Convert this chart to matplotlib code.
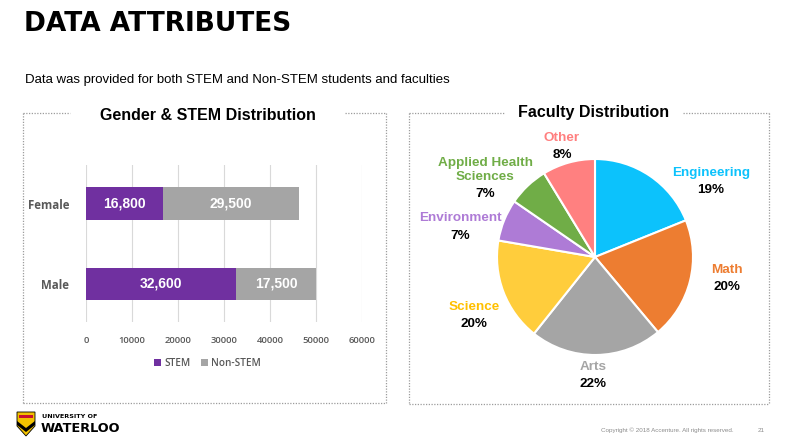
import matplotlib
matplotlib.use("Agg")
import matplotlib.pyplot as plt
from matplotlib.lines import Line2D
from matplotlib.patches import Polygon, Rectangle

# ---------------- data ----------------
genders = ["Male", "Female"]
stem = [32600, 16800]
non_stem = [17500, 29500]
x_ticks = [0, 10000, 20000, 30000, 40000, 50000, 60000]

faculties = ["Engineering", "Math", "Arts", "Science", "Environment",
             "Applied Health\nSciences", "Other"]
faculty_share = [18.9, 20.0, 21.8, 17.0, 6.9, 6.7, 8.7]   # slice sizes as drawn
faculty_pct_labels = ["19%", "20%", "22%", "20%", "7%", "7%", "8%"]

# ---------------- style ----------------
W, H = 793, 446
fig = plt.figure(figsize=(W / 100, H / 100), dpi=100)
fig.patch.set_facecolor("white")

def fx(x):
    return x / W

def fy(y):
    return 1 - y / H

SANS = ["Liberation Sans", "DejaVu Sans"]
TICKF = ["Open Sans", "DejaVu Sans"]
GREY_TXT = "#595959"

# Title + subtitle
fig.text(fx(24), fy(24), "DATA ATTRIBUTES", family="DejaVu Sans",
         weight="heavy", fontsize=19, color="black", va="center", ha="left")
fig.text(fx(25), fy(80), "Data was provided for both STEM and Non-STEM students and faculties",
         family=SANS, fontsize=9.5, color="black", va="center", ha="left")

# Dotted panel borders
def dotted(xs, ys):
    fig.add_artist(Line2D([fx(v) for v in xs], [fy(v) for v in ys],
                          transform=fig.transFigure, color="#9C9C9C",
                          lw=0.9, linestyle=(0, (1, 1.2))))

# left box
dotted([23, 70], [113, 113]); dotted([345, 386], [113, 113])
dotted([23, 23], [113, 403]); dotted([386, 386], [113, 403]); dotted([23, 386], [403, 403])
# right box
dotted([409, 505], [113, 113]); dotted([683, 769], [113, 113])
dotted([409, 409], [113, 404]); dotted([769, 769], [113, 404]); dotted([409, 769], [404, 404])

fig.text(fx(208), fy(116), "Gender & STEM Distribution", family=SANS, weight="bold",
         fontsize=11.5, color="black", ha="center", va="center")
fig.text(fx(594), fy(112), "Faculty Distribution", family=SANS, weight="bold",
         fontsize=11.5, color="black", ha="center", va="center")

# ---------------- bar chart ----------------
ax = fig.add_axes([fx(86), fy(322), fx(362) - fx(86), fy(165) - fy(322)])
ypos = list(range(len(genders)))
b1 = ax.barh(ypos, stem, height=0.4, color="#7030A0", label="STEM", zorder=3)
b2 = ax.barh(ypos, non_stem, left=stem, height=0.4, color="#A5A5A5", label="Non-STEM", zorder=3)
for bars in (b1, b2):
    ax.bar_label(bars, labels=[f"{v:,.0f}" for v in bars.datavalues], label_type="center",
                 color="white", fontsize=10, weight="bold", family=SANS)
ax.set_xlim(0, 60000)
ax.set_ylim(-0.475, 1.48)
ax.set_xticks(x_ticks)
ax.set_xticklabels([str(t) for t in x_ticks], fontsize=6.8, color=GREY_TXT, family=TICKF,
                   weight="semibold")
ax.set_yticks(ypos)
ax.set_yticklabels(genders, fontsize=8.3, color=GREY_TXT, family=TICKF, weight="bold")
ax.tick_params(axis="both", length=0)
ax.tick_params(axis="x", pad=10)
ax.tick_params(axis="y", pad=12)
ax.grid(axis="x", color="#D9D9D9", lw=0.8, zorder=0)
for s in ax.spines.values():
    s.set_visible(False)
leg = ax.legend(loc="upper center", bbox_to_anchor=(0.44, -0.17), ncol=2, frameon=False,
                prop={"family": TICKF, "size": 7.2, "weight": "semibold"},
                handlelength=0.7, handleheight=0.7, handletextpad=0.3, columnspacing=1.0)
for t in leg.get_texts():
    t.set_color(GREY_TXT)

# ---------------- pie chart ----------------
R = 98
pax = fig.add_axes([fx(595 - R), fy(257 + R), 2 * R / W, 2 * R / H])
pie_colors = ["#0CC2FC", "#ED7D31", "#A5A5A5", "#FFCD3C", "#AE7BD6", "#70AD47", "#FF8080"]
label_colors = ["#0CC2FC", "#ED7D31", "#A5A5A5", "#FFC000", "#AE7BD6", "#70AD47", "#FF7F7F"]
pax.pie(faculty_share, colors=pie_colors, startangle=90, counterclock=False,
        wedgeprops={"edgecolor": "white", "linewidth": 1.5})
pax.set_xlim(-1, 1)
pax.set_ylim(-1, 1)
pax.set_aspect("equal")

# label layout (pixel centres of the category name line and percent line)
label_pos = [(711, 173, 190), (727, 270, 287), (593, 367, 384), (474, 307, 324),
             (460, 218, 236), (485, 170, 194), (562, 138, 155)]
for name, pct, col, (lx, ly, py) in zip(faculties, faculty_pct_labels, label_colors, label_pos):
    fig.text(fx(lx), fy(ly), name, family=SANS, weight="bold", fontsize=9.7, color=col,
             ha="center", va="center", linespacing=1.15)
    fig.text(fx(lx), fy(py), pct, family=SANS, weight="bold", fontsize=9.7, color="black",
             ha="center", va="center")

# ---------------- footer ----------------
shield = Polygon([(fx(17), fy(412)), (fx(35), fy(412)), (fx(35), fy(426)),
                  (fx(26), fy(436)), (fx(17), fy(426))], closed=True,
                 transform=fig.transFigure, facecolor="#F2C200", edgecolor="black", lw=0.6)
fig.add_artist(shield)
chev = Polygon([(fx(17), fy(421)), (fx(26), fy(428)), (fx(35), fy(421)), (fx(35), fy(425)),
                (fx(26), fy(432)), (fx(17), fy(425))], closed=True,
               transform=fig.transFigure, facecolor="black", edgecolor="none")
fig.add_artist(chev)
fig.add_artist(Rectangle((fx(19), fy(418)), fx(14), 3 / H, transform=fig.transFigure,
                         facecolor="#C8102E", edgecolor="none"))
fig.text(fx(42), fy(417), "UNIVERSITY OF", family="DejaVu Sans", weight="bold", fontsize=4.6,
         color="black", ha="left", va="center")
fig.text(fx(41), fy(429), "WATERLOO", family="DejaVu Sans", weight="heavy", fontsize=9.3,
         color="black", ha="left", va="center")
fig.text(fx(734), fy(430), "Copyright \u00a9 2018 Accenture. All rights reserved.", family=SANS,
         fontsize=4.5, color="#8C8C8C", ha="right", va="center")
fig.text(fx(765), fy(430), "21", family=SANS, fontsize=4.5, color="#8C8C8C", ha="right", va="center")

fig.savefig("out.png", dpi=100, facecolor="white")
